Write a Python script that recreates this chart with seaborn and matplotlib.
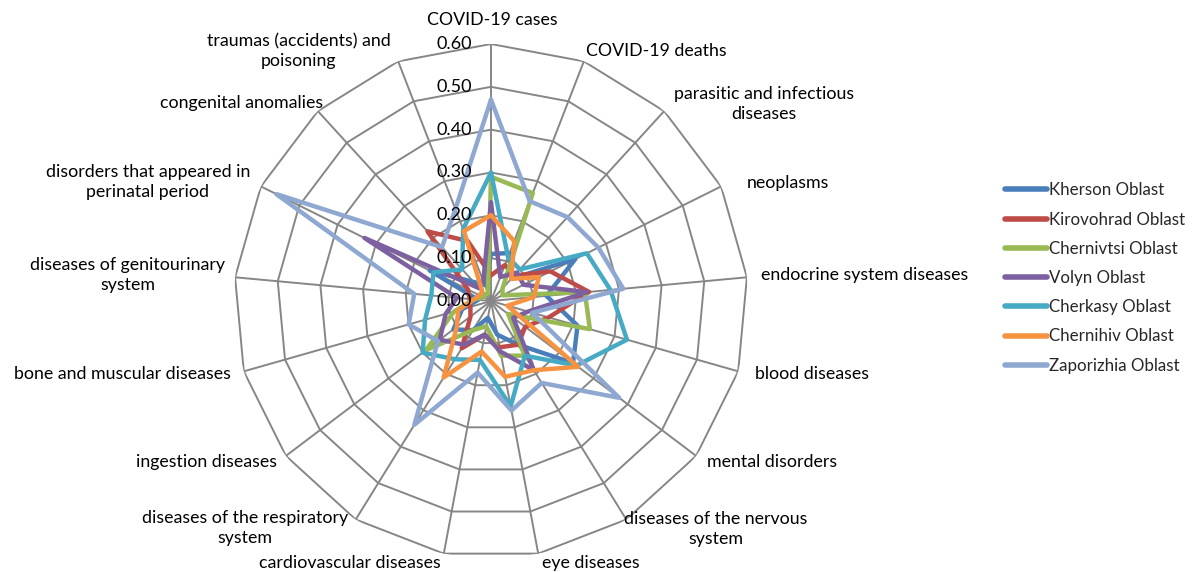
import numpy as np
import pandas as pd
import matplotlib
matplotlib.use('Agg')
import matplotlib.pyplot as plt
import matplotlib.transforms as mtransforms
import seaborn as sns

categories = ['COVID-19 cases', 'COVID-19 deaths', 'parasitic and infectious\ndiseases',
              'neoplasms', 'endocrine system diseases', 'blood diseases', 'mental disorders',
              'diseases of the nervous\nsystem', 'eye diseases', 'cardiovascular diseases',
              'diseases of the respiratory\nsystem', 'ingestion diseases',
              'bone and muscular diseases', 'diseases of genitourinary\nsystem',
              'disorders that appeared in\nperinatal period', 'congenital anomalies',
              'traumas (accidents) and\npoisoning']

kherson    = [0.11, 0.12, 0.07, 0.22, 0.13, 0.21, 0.24, 0.12, 0.08, 0.04, 0.08, 0.11, 0.07, 0.03, 0.16, 0.06, 0.04]
kirovohrad = [0.06, 0.09, 0.08, 0.155, 0.23, 0.14, 0.10, 0.12, 0.11, 0.08, 0.13, 0.06, 0.05, 0.05, 0.06, 0.22, 0.15]
chernivtsi = [0.29, 0.27, 0.04, 0.03, 0.22, 0.24, 0.05, 0.15, 0.13, 0.06, 0.08, 0.19, 0.09, 0.04, 0.02, 0.02, 0.02]
volyn      = [0.23, 0.06, 0.09, 0.085, 0.225, 0.09, 0.065, 0.19, 0.12, 0.08, 0.12, 0.15, 0.11, 0.08, 0.33, 0.04, 0.05]
cherkasy   = [0.30, 0.11, 0.10, 0.25, 0.28, 0.33, 0.25, 0.15, 0.25, 0.14, 0.16, 0.20, 0.16, 0.14, 0.15, 0.10, 0.18]
chernihiv  = [0.20, 0.15, 0.07, 0.125, 0.10, 0.04, 0.255, 0.19, 0.18, 0.12, 0.21, 0.10, 0.08, 0.04, 0.03, 0.03, 0.175]
zaporizhia = [0.47, 0.25, 0.265, 0.28, 0.31, 0.10, 0.375, 0.225, 0.26, 0.17, 0.34, 0.155, 0.20, 0.18, 0.56, 0.17, 0.23]

regions = ['Kherson Oblast', 'Kirovohrad Oblast', 'Chernivtsi Oblast', 'Volyn Oblast',
           'Cherkasy Oblast', 'Chernihiv Oblast', 'Zaporizhia Oblast']
series = [kherson, kirovohrad, chernivtsi, volyn, cherkasy, chernihiv, zaporizhia]
colors = ['#4A7EBB', '#BE4B48', '#98B954', '#7D60A0', '#46AAC5', '#F69240', '#8EA8D2']
levels = [0.0, 0.1, 0.2, 0.3, 0.4, 0.5, 0.6]

# label centres in pixels (x, y from top) of the 1198x572 image
label_pos = [(492, 20), (656, 51), (764, 104), (788, 183), (865, 275), (812, 374),
             (772, 462), (716, 529), (591, 563), (350, 563), (245, 528), (206, 462),
             (122, 374), (128, 275), (148, 182), (242, 103), (299, 51)]

sns.set_style('white')
plt.rcParams['font.family'] = ['Lato', 'DejaVu Sans']

n = len(categories)
theta = np.linspace(0, 2 * np.pi, n, endpoint=False)
theta_c = np.append(theta, 2 * np.pi)

rows = []
for name, vals in zip(regions, series):
    for t, v in zip(theta_c, vals + vals[:1]):
        rows.append({'region': name, 'theta': t, 'value': v})
df = pd.DataFrame(rows)

W, H = 1198, 572
fig = plt.figure(figsize=(W / 100, H / 100), dpi=100)
cx, cy, R = 491, 301, 257
ax = fig.add_axes([(cx - R) / W, (H - cy - R) / H, 2 * R / W, 2 * R / H], projection='polar')
ax.set_theta_zero_location('N')
ax.set_theta_direction(-1)
ax.set_ylim(0, 0.6)
ax.grid(False)
ax.spines['polar'].set_visible(False)
ax.set_xticks([])
ax.set_yticks([])
ax.patch.set_alpha(0)

grid_col = '#868686'
for lv in levels[1:]:
    ax.plot(theta_c, [lv] * len(theta_c), color=grid_col, lw=1.4, zorder=1)
for t in theta:
    ax.plot([t, t], [0, 0.6], color=grid_col, lw=1.4, zorder=1)

sns.lineplot(data=df, x='theta', y='value', hue='region', hue_order=regions,
             palette=colors, ax=ax, legend=False, linewidth=3.2, estimator=None,
             sort=False, zorder=3)
ax.set_xlabel('')
ax.set_ylabel('')

off = mtransforms.offset_copy(ax.transData, fig=fig, x=-19, y=0, units='dots')
for lv in levels:
    ax.text(0, lv, f'{lv:.2f}', transform=off, ha='right', va='center',
            fontsize=13, color='#000000', zorder=5)

for lab, (px, py) in zip(categories, label_pos):
    fig.text(px / W, 1 - py / H, lab, ha='center', va='center', fontsize=12.8,
             color='#000000', linespacing=1.3)

handles = [plt.Line2D([0], [0], color=c, lw=4) for c in colors]
fig.legend(handles, regions, loc='center left', bbox_to_anchor=(1005 / W, 1 - 278 / H),
           frameon=False, fontsize=12.2, handlelength=2.5, handletextpad=0.12,
           labelspacing=0.78, borderpad=0, borderaxespad=0)

fig.savefig('out.png', dpi=100)
